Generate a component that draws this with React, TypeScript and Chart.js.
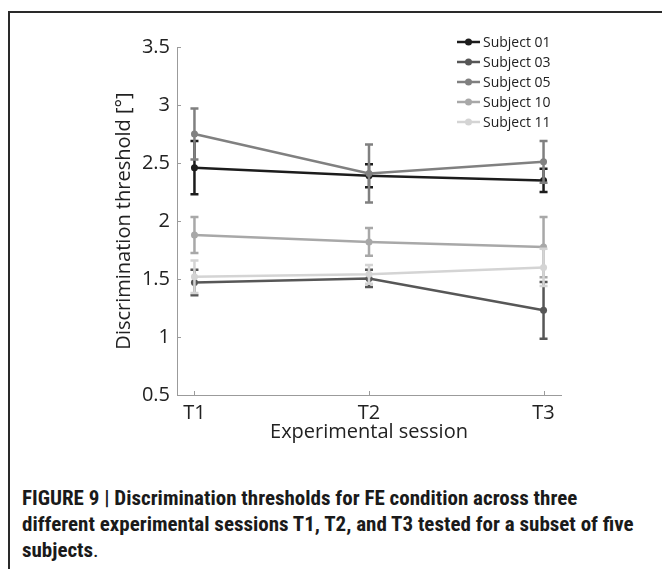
import React, { useEffect, useRef } from 'react';
import { Chart, registerables } from 'chart.js';

Chart.register(...registerables);

// ---- data ----
const sessions = [1, 2, 3];
const xTickLabels = ['T1', 'T2', 'T3'];
const yTickValues = [0.5, 1, 1.5, 2, 2.5, 3, 3.5];
const yTickLabels = ['0.5', '1', '1.5', '2', '2.5', '3', '3.5'];
const seriesNames = ['Subject 01', 'Subject 03', 'Subject 05', 'Subject 10', 'Subject 11'];
const subject01 = [2.46, 2.39, 2.35];
const subject03 = [1.47, 1.505, 1.23];
const subject05 = [2.75, 2.41, 2.51];
const subject10 = [1.88, 1.82, 1.775];
const subject11 = [1.52, 1.54, 1.6];
const err01 = [0.23, 0.1, 0.1];
const err03 = [0.11, 0.075, 0.245];
const err05 = [0.22, 0.25, 0.18];
const err10 = [0.155, 0.12, 0.26];
const err11 = [0.14, 0.08, 0.16];
const seriesColors = ['#1c1c1c', '#575757', '#808080', '#a8a8a8', '#d4d4d4'];

const seriesValues = [subject01, subject03, subject05, subject10, subject11];
const seriesErrors = [err01, err03, err05, err10, err11];

const FONT = "'Open Sans', 'Noto Sans', sans-serif";
const TEXT = '#222222';

const errorBarPlugin = {
  id: 'errorBars',
  beforeDatasetDraw(chart: any, args: any) {
    const i = args.index;
    const vals = seriesValues[i];
    const errs = seriesErrors[i];
    const xs = chart.scales.x;
    const ys = chart.scales.y;
    const ctx = chart.ctx;
    ctx.save();
    ctx.strokeStyle = seriesColors[i];
    ctx.lineWidth = 2.5;
    ctx.lineCap = 'butt';
    for (let j = 0; j < vals.length; j++) {
      const px = xs.getPixelForValue(sessions[j]);
      const pt = ys.getPixelForValue(vals[j] + errs[j]);
      const pb = ys.getPixelForValue(vals[j] - errs[j]);
      ctx.beginPath();
      ctx.moveTo(px, pt);
      ctx.lineTo(px, pb);
      ctx.moveTo(px - 4, pt);
      ctx.lineTo(px + 4, pt);
      ctx.moveTo(px - 4, pb);
      ctx.lineTo(px + 4, pb);
      ctx.stroke();
    }
    ctx.restore();
  },
};

const innerTicksPlugin = {
  id: 'innerTicks',
  afterDraw(chart: any) {
    const { ctx, chartArea } = chart;
    const xs = chart.scales.x;
    const ys = chart.scales.y;
    ctx.save();
    ctx.strokeStyle = '#9b9b9b';
    ctx.lineWidth = 1;
    ctx.beginPath();
    yTickValues.forEach((v) => {
      const py = Math.round(ys.getPixelForValue(v)) + 0.5;
      ctx.moveTo(chartArea.left, py);
      ctx.lineTo(chartArea.left + 4, py);
    });
    sessions.forEach((v) => {
      const px = Math.round(xs.getPixelForValue(v)) + 0.5;
      ctx.moveTo(px, chartArea.bottom);
      ctx.lineTo(px, chartArea.bottom - 4);
    });
    ctx.stroke();
    ctx.restore();
  },
};

const legendPlugin = {
  id: 'cornerLegend',
  afterDraw(chart: any) {
    const ctx = chart.ctx;
    ctx.save();
    ctx.font = `14px ${FONT}`;
    ctx.textBaseline = 'middle';
    ctx.textAlign = 'left';
    seriesNames.forEach((name, i) => {
      const y = 42 + i * 20;
      ctx.strokeStyle = seriesColors[i];
      ctx.fillStyle = seriesColors[i];
      ctx.lineWidth = 2.5;
      ctx.beginPath();
      ctx.moveTo(457, y);
      ctx.lineTo(480, y);
      ctx.stroke();
      ctx.beginPath();
      ctx.arc(468.5, y, 3.5, 0, Math.PI * 2);
      ctx.fill();
      ctx.fillStyle = TEXT;
      ctx.fillText(name, 483, y + 1);
    });
    ctx.restore();
  },
};

function App() {
  const canvasRef = useRef<HTMLCanvasElement | null>(null);

  useEffect(() => {
    if (!canvasRef.current) return;
    const datasets = seriesNames.map((name, i) => ({
      label: name,
      data: sessions.map((s, j) => ({ x: s, y: seriesValues[i][j] })),
      borderColor: seriesColors[i],
      backgroundColor: seriesColors[i],
      pointBackgroundColor: seriesColors[i],
      pointBorderColor: seriesColors[i],
      pointRadius: 3.5,
      pointBorderWidth: 0,
      borderWidth: 2.5,
      tension: 0,
      fill: false,
      order: seriesNames.length - i,
      clip: false as any,
    }));

    const chart = new Chart(canvasRef.current, {
      type: 'line',
      data: { datasets },
      options: {
        animation: false,
        responsive: false,
        maintainAspectRatio: false,
        layout: { padding: { left: 100, top: 47, right: 101, bottom: 0 } },
        plugins: {
          legend: { display: false },
          tooltip: { enabled: false },
        },
        scales: {
          x: {
            type: 'linear',
            min: 0.9,
            max: 3.1,
            afterBuildTicks: (s: any) => {
              s.ticks = sessions.map((v) => ({ value: v }));
            },
            afterFit: (s: any) => {
              s.height = 65;
            },
            grid: { display: false, drawTicks: false },
            border: { display: true, color: '#9b9b9b', width: 1 },
            ticks: {
              callback: (_v: any, i: number) => xTickLabels[i],
              font: { size: 20, family: FONT },
              color: TEXT,
              padding: 6,
              maxRotation: 0,
              autoSkip: false,
            },
            title: {
              display: true,
              text: 'Experimental session',
              font: { size: 20, family: FONT },
              color: TEXT,
              padding: { top: 0, bottom: 16 },
            },
          },
          y: {
            type: 'linear',
            min: 0.5,
            max: 3.5,
            afterBuildTicks: (s: any) => {
              s.ticks = yTickValues.map((v) => ({ value: v }));
            },
            afterFit: (s: any) => {
              s.width = 77;
            },
            grid: { display: false, drawTicks: false },
            border: { display: true, color: '#9b9b9b', width: 1 },
            ticks: {
              callback: (_v: any, i: number) => yTickLabels[i],
              font: { size: 20, family: FONT },
              color: TEXT,
              padding: 7,
              autoSkip: false,
            },
            title: {
              display: true,
              text: 'Discrimination threshold [°]',
              font: { size: 20, family: FONT },
              color: TEXT,
              padding: { top: 12, bottom: 0 },
            },
          },
        },
      },
      plugins: [errorBarPlugin, innerTicksPlugin, legendPlugin],
    } as any);

    return () => chart.destroy();
  }, []);

  return (
    <div
      style={{
        position: 'fixed',
        left: 0,
        top: 0,
        width: 662,
        height: 569,
        overflow: 'hidden',
        background: '#ffffff',
      }}
    >
      <div
        style={{
          position: 'absolute',
          left: 8,
          top: 11,
          width: 800,
          height: 700,
          borderLeft: '2px solid #2a2a2a',
          borderTop: '2px solid #2a2a2a',
        }}
      />
      <canvas
        ref={canvasRef}
        width={662}
        height={460}
        style={{ position: 'absolute', left: 0, top: 0, display: 'block' }}
      />
      <div
        style={{
          position: 'absolute',
          left: 22,
          top: 485,
          fontFamily: "'Liberation Sans Narrow', 'Roboto Condensed', 'Liberation Sans', Arial, sans-serif",
          fontWeight: 'bold',
          fontSize: 21,
          lineHeight: '26px',
          color: '#1a1a1a',
          whiteSpace: 'nowrap',
        }}
      >
        <div>FIGURE 9 | Discrimination thresholds for FE condition across three</div>
        <div>different experimental sessions T1, T2, and T3 tested for a subset of five</div>
        <div>
          subjects<span style={{ fontWeight: 'normal' }}>.</span>
        </div>
      </div>
    </div>
  );
}

export default App;
